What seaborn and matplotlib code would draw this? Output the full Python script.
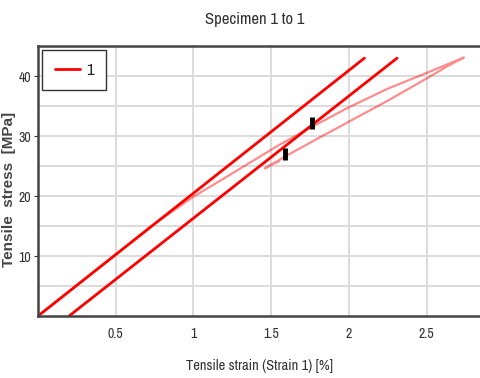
import matplotlib
matplotlib.use("Agg")
import matplotlib.pyplot as plt
import seaborn as sns

# first loading / second loading lines
strain_a = [0.0, 2.10]
stress_a = [0.0, 43.0]
strain_b = [0.20, 2.31]
stress_b = [0.0, 43.0]

# hysteresis loop (lighter trace)
loop_strain = [0.0, 0.74, 1.00, 1.20, 1.365, 1.55, 1.76, 2.00, 2.25,
               2.45, 2.60, 2.74, 2.63, 2.52, 2.25, 2.00, 1.80, 1.59,
               1.46, 1.50, 1.55]
loop_stress = [0.0, 15.2, 19.9, 23.0, 25.6, 28.5, 31.5, 34.8, 37.9,
               40.0, 41.6, 43.1, 41.6, 39.9, 35.9, 32.4, 29.6, 26.6,
               24.6, 25.2, 25.8]

# black marks
mark_strain = [1.76, 1.59]
mark_stress = [32.2, 27.0]

xticks = [0.5, 1, 1.5, 2, 2.5]
xticklabels = ["0.5", "1", "1.5", "2", "2.5"]
yticks = [10, 20, 30, 40]

sns.set_style("white")
narrow = ['Liberation Sans Narrow', 'Archivo Narrow', 'DejaVu Sans']
plt.rcParams['font.family'] = narrow

fig = plt.figure(figsize=(4.81, 3.78), dpi=100)
ax = fig.add_axes([0.079, 0.164, 0.921, 0.714])

for y in range(5, 45, 5):
    ax.axhline(y, color='#dcdcdc', lw=1.4, zorder=0)
for x in xticks:
    ax.axvline(x, color='#dcdcdc', lw=1.4, zorder=0)

sns.lineplot(x=loop_strain, y=loop_stress, sort=False, estimator=None,
             color='#ff0000', alpha=0.45, lw=1.6, ax=ax, legend=False)
sns.lineplot(x=strain_a, y=stress_a, color='#ff0000', lw=2.0, ax=ax,
             label='1')
sns.lineplot(x=strain_b, y=stress_b, color='#ff0000', lw=2.0, ax=ax,
             legend=False)
ax.plot(mark_strain, mark_stress, ls='none', marker='|', ms=8, mew=3.5,
        color='black', zorder=5)

ax.set_xlim(0, 2.85)
ax.set_ylim(0, 45)
ax.set_xticks(xticks)
ax.set_xticklabels(xticklabels)
ax.set_yticks(yticks)
ax.tick_params(labelsize=10, colors='#333333', length=0, pad=8)
ax.tick_params(axis='y', pad=2, length=3, direction='out', left=True)

for side in ['top', 'bottom', 'left']:
    ax.spines[side].set_color('#444444')
    ax.spines[side].set_linewidth(1.8)
ax.spines['right'].set_visible(False)

ax.set_title('Specimen 1 to 1', fontsize=12, color='#333333', pad=16,
             x=0.49)
ax.set_xlabel('Tensile strain (Strain 1) [%]', fontsize=10.5,
              color='#333333', labelpad=13)
ax.set_ylabel('Tensile  stress  [MPa]', fontsize=11, color='#444444',
              fontweight='bold', family=['Liberation Sans', 'DejaVu Sans'])
ax.yaxis.set_label_coords(-0.05, 0.47)

leg = ax.legend(loc='upper left', fontsize=12, handlelength=1.5,
                handletextpad=0.4, fancybox=False, framealpha=1,
                borderpad=0.75, borderaxespad=0.25,
                bbox_to_anchor=(0.0, 1.0))
leg.get_frame().set_edgecolor('#333333')
leg.get_frame().set_linewidth(1.0)

fig.savefig('out.png', dpi=100)
